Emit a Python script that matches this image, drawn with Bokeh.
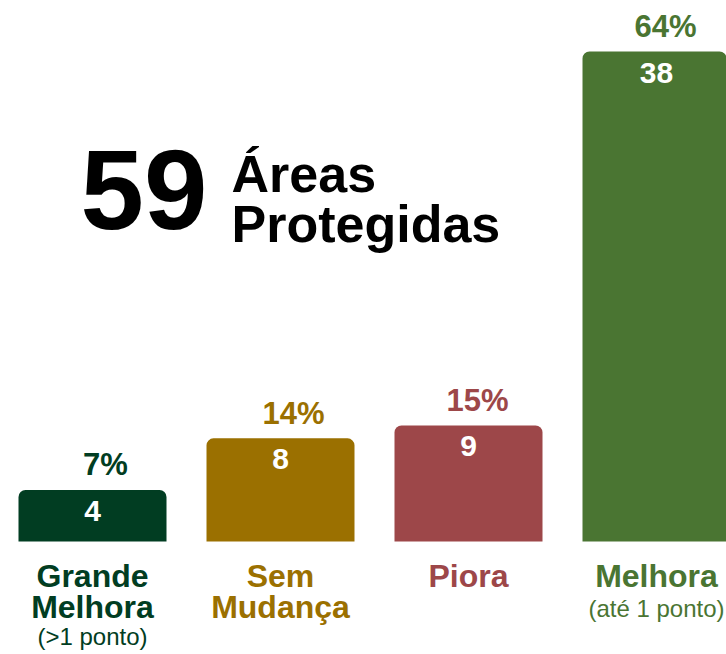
from bokeh.plotting import figure
from bokeh.models import ColumnDataSource, Range1d
from bokeh.core.properties import value
from bokeh.embed import file_html
from bokeh.resources import INLINE

# ---- data ----
categories = ["Grande Melhora", "Sem Mudança", "Piora", "Melhora"]
counts = [4, 8, 9, 38]
percents = ["7%", "14%", "15%", "64%"]
label_line1 = ["Grande", "Sem", "Piora", "Melhora"]
label_line2 = ["Melhora", "Mudança", "", ""]
label_notes = ["(>1 ponto)", "", "", "(até 1 ponto)"]
colors = ["#013d22", "#9b7000", "#9d4749", "#4a7532"]
total = 59
title_lines = ["Áreas", "Protegidas"]

# style: horizontal nudge (px) of the percentage labels
pct_nudge = [13, 13, 9, 9]

W, H = 726, 654
FONT = value("Liberation Sans")

xs = list(range(len(categories)))
src = ColumnDataSource(dict(
    x=xs, top=counts, pct=percents, cnt=[str(c) for c in counts],
    l1=label_line1, l2=label_line2, color=colors, nudge=pct_nudge,
))

# pixel geometry (screen layout)
px_per_unit = 490 / 38.0
base_px = 113            # baseline distance from bottom
step_px = 188            # spacing between bar centers
first_px = 92            # first bar center from left

y0 = -base_px / px_per_unit
y1 = y0 + H / px_per_unit
x0 = -first_px / step_px
x1 = x0 + W / step_px

p = figure(width=W, height=H, output_backend="svg", toolbar_location=None,
           x_range=Range1d(x0, x1), y_range=Range1d(y0, y1),
           min_border=0, outline_line_color=None)
p.xaxis.visible = False
p.yaxis.visible = False
p.grid.visible = False
p.background_fill_color = "white"
p.border_fill_color = "white"

p.vbar(x="x", top="top", bottom=0, width=148 / step_px, source=src,
       fill_color="color", line_color=None, border_radius=(7, 7, 0, 0))

# percentage above bars
p.text(x="x", y="top", text="pct", source=src, text_color="color",
       text_font=FONT, text_font_style="bold", text_font_size="31px",
       text_align="center", text_baseline="alphabetic",
       x_offset="nudge", y_offset=-25)

# count inside bars
p.text(x="x", y="top", text="cnt", source=src, text_color="white",
       text_font=FONT, text_font_style="bold", text_font_size="30px",
       text_align="center", text_baseline="alphabetic", y_offset=21)

# category labels
p.text(x="x", y=0, text="l1", source=src, text_color="color",
       text_font=FONT, text_font_style="bold", text_font_size="32px",
       text_align="center", text_baseline="alphabetic", y_offset=34)
p.text(x="x", y=0, text="l2", source=src, text_color="color",
       text_font=FONT, text_font_style="bold", text_font_size="32px",
       text_align="center", text_baseline="alphabetic", y_offset=65)
for i, note in enumerate(label_notes):
    if note:
        nb = 1 + (1 if label_line2[i] else 0)
        p.text(x=[xs[i]], y=[0], text=[note], text_color=colors[i],
               text_font=FONT, text_font_size="24px",
               text_align="center", text_baseline="alphabetic",
               y_offset=39 + 28 * nb)

# title block
def dx(px):
    return x0 + px / step_px

def dy(px_from_top):
    return y1 - px_from_top / px_per_unit

p.text(x=[dx(80)], y=[dy(189)], text=[str(total)], text_color="black",
       text_font=FONT, text_font_style="bold", text_font_size="114px",
       text_align="left", text_baseline="alphabetic")
p.text(x=[dx(231), dx(231)], y=[dy(173), dy(223)], text=title_lines,
       text_color="black", text_font=FONT, text_font_style="bold",
       text_font_size="52px", text_align="left", text_baseline="alphabetic")

open("out.html", "w").write(file_html(p, INLINE))
